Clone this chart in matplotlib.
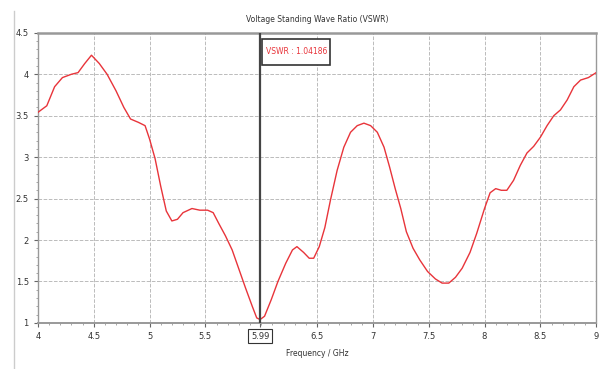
import matplotlib
matplotlib.use("Agg")
import matplotlib.pyplot as plt
from matplotlib.lines import Line2D
from matplotlib.patches import Rectangle

freq = [4.0, 4.08, 4.15, 4.22, 4.3, 4.36, 4.42, 4.48, 4.55, 4.62, 4.7, 4.77, 4.83,
        4.9, 4.96, 5.0, 5.05, 5.1, 5.15, 5.2, 5.25, 5.3, 5.38, 5.45, 5.52, 5.57,
        5.62, 5.68, 5.74, 5.8, 5.86, 5.92, 5.96, 5.99, 6.03, 6.09, 6.15, 6.22,
        6.28, 6.32, 6.38, 6.43, 6.47, 6.52, 6.57, 6.62, 6.68, 6.74, 6.8, 6.86,
        6.92, 6.98, 7.04, 7.1, 7.15, 7.2, 7.25, 7.3, 7.36, 7.42, 7.49, 7.56, 7.62,
        7.68, 7.74, 7.8, 7.87, 7.93, 8.0, 8.05, 8.1, 8.15, 8.2, 8.26, 8.32, 8.38,
        8.44, 8.5, 8.56, 8.62, 8.68, 8.74, 8.8, 8.86, 8.93, 9.0]
vswr = [3.54, 3.62, 3.85, 3.96, 4.0, 4.02, 4.13, 4.23, 4.13, 4.0, 3.8, 3.6, 3.46,
        3.42, 3.38, 3.22, 2.98, 2.65, 2.35, 2.23, 2.25, 2.33, 2.38, 2.36, 2.36, 2.33,
        2.2, 2.05, 1.88, 1.65, 1.42, 1.2, 1.06, 1.04, 1.08, 1.28, 1.5, 1.72,
        1.88, 1.92, 1.85, 1.78, 1.78, 1.92, 2.15, 2.48, 2.84, 3.12, 3.3, 3.38,
        3.41, 3.38, 3.3, 3.12, 2.88, 2.62, 2.38, 2.1, 1.9, 1.76, 1.62, 1.53, 1.48,
        1.48, 1.55, 1.66, 1.85, 2.08, 2.38, 2.57, 2.62, 2.6, 2.6, 2.72, 2.9, 3.05,
        3.13, 3.24, 3.38, 3.5, 3.57, 3.69, 3.85, 3.93, 3.96, 4.02]

marker_f = 5.99
marker_text = "VSWR : 1.04186"
xticks = [4, 4.5, 5, 5.5, 5.99, 6.5, 7, 7.5, 8, 8.5, 9]
xlabels = ["4", "4.5", "5", "5.5", "5.99", "6.5", "7", "7.5", "8", "8.5", "9"]
yticks = [1, 1.5, 2, 2.5, 3, 3.5, 4, 4.5]
ylabels = ["1", "1.5", "2", "2.5", "3", "3.5", "4", "4.5"]

fig = plt.figure(figsize=(6.01, 3.69), dpi=100)
ax = fig.add_axes([0.063, 0.125, 0.929, 0.786])

ax.plot(freq, vswr, color="#e8343a", linewidth=1.0, zorder=3)
ax.axvline(marker_f, color="#444444", linewidth=1.6, zorder=4)

ax.set_xlim(4, 9)
ax.set_ylim(1, 4.5)
ax.set_xticks(xticks)
ax.set_xticklabels(xlabels)
ax.set_yticks(yticks)
ax.set_yticklabels(ylabels)
ax.tick_params(labelsize=6, length=3, color="#666666", labelcolor="#333333")
ax.minorticks_on()
ax.tick_params(which="minor", length=1.5, color="#999999")

for lbl in ax.get_xticklabels():
    if lbl.get_text() == "5.99":
        lbl.set_bbox(dict(boxstyle="square,pad=0.3", facecolor="white", edgecolor="#333333", linewidth=0.8))

ax.grid(True, which="major", color="#bbbbbb", linestyle="--", linewidth=0.7)
for s in ax.spines.values():
    s.set_color("#999999")
ax.spines["top"].set_linewidth(1.8)
ax.spines["bottom"].set_linewidth(1.4)
ax.spines["left"].set_linewidth(1.0)
ax.spines["right"].set_linewidth(1.0)

# marker readout box
ax.add_patch(Rectangle((6.01, 4.11), 0.61, 0.32, facecolor="white", edgecolor="#333333",
                       linewidth=1.2, zorder=5))
ax.text(6.315, 4.27, marker_text, color="#e8343a", fontsize=5.5, va="center", ha="center", zorder=6)

ax.set_title("Voltage Standing Wave Ratio (VSWR)", fontsize=5.5, color="#333333", pad=8)
ax.set_xlabel("Frequency / GHz", fontsize=5.5, color="#333333", labelpad=6)

fig.add_artist(Line2D([0.023, 0.023], [0.0, 0.97], transform=fig.transFigure, color="#cccccc", linewidth=1.0))

fig.savefig("out.png", dpi=100)
